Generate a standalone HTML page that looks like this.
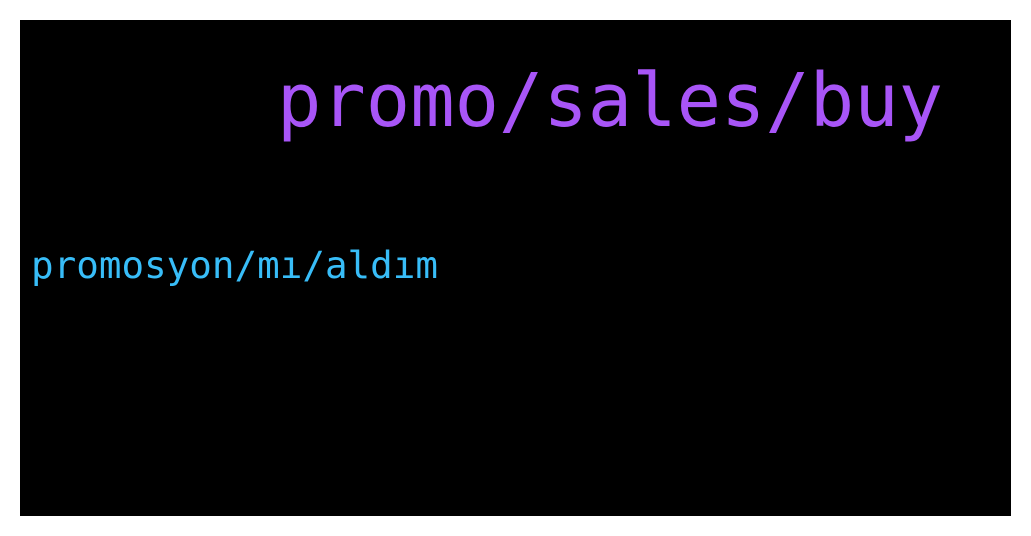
<!DOCTYPE html>
<html>
<head>
<meta charset="utf-8">
<style>
html,body{margin:0;padding:0;background:#fff;width:1031px;height:536px;overflow:hidden;}
svg{display:block;}
</style>
</head>
<body>
<svg width="1031" height="536" xmlns="http://www.w3.org/2000/svg">
<rect x="0" y="0" width="1031" height="536" fill="#ffffff"/>
<rect x="20" y="20" width="991" height="496" fill="#000000"/>
<text x="277" y="126" font-family="'DejaVu Sans Mono', 'Liberation Mono', monospace" font-size="74" fill="#a855f7" textLength="666" lengthAdjust="spacingAndGlyphs">promo/sales/buy</text>
<text x="31" y="278" font-family="'DejaVu Sans Mono', 'Liberation Mono', monospace" font-size="37.5" fill="#38bdf8" textLength="407" lengthAdjust="spacingAndGlyphs">promosyon/mı/aldım</text>
</svg>
</body>
</html>
